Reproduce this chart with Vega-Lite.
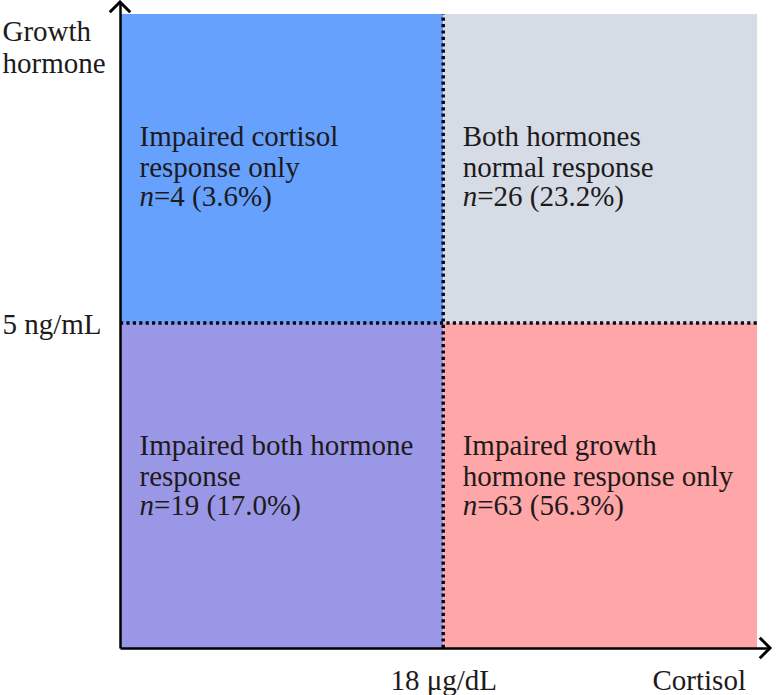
{
  "$schema": "https://vega.github.io/schema/vega-lite/v6.json",
  "width": 650,
  "height": 646,
  "autosize": {"type": "none"},
  "padding": {"left": 120, "top": 2, "right": 8, "bottom": 47},
  "background": "white",
  "config": {"view": {"stroke": null}, "font": "Liberation Serif, Times New Roman, serif"},
  "data": {"values": [{}]},
  "datasets": {
    "quadrants": [
      {"group": "Impaired cortisol response only", "cortisol_lo": 0, "cortisol_hi": 18, "gh_lo": 5, "gh_hi": 9.755, "lines": ["Impaired cortisol", "response only"], "stat": "=4 (3.6%)"},
      {"group": "Both hormones normal response", "cortisol_lo": 18, "cortisol_hi": 35.48, "gh_lo": 5, "gh_hi": 9.755, "lines": ["Both hormones", "normal response"], "stat": "=26 (23.2%)"},
      {"group": "Impaired both hormone response", "cortisol_lo": 0, "cortisol_hi": 18, "gh_lo": 0, "gh_hi": 5, "lines": ["Impaired both hormone", "response"], "stat": "=19 (17.0%)"},
      {"group": "Impaired growth hormone response only", "cortisol_lo": 18, "cortisol_hi": 35.48, "gh_lo": 0, "gh_hi": 5, "lines": ["Impaired growth", "hormone response only"], "stat": "=63 (56.3%)"}
    ]
  },
  "layer": [
    {
      "data": {"name": "quadrants"},
      "mark": {"type": "rect"},
      "encoding": {
        "x": {
          "field": "cortisol_lo", "type": "quantitative",
          "scale": {"domain": [0, 36.2], "nice": false, "zero": false},
          "axis": {
            "values": [18], "labelExpr": "'18 μg/dL'",
            "domainColor": "#000000", "domainWidth": 2.5,
            "ticks": false, "tickSize": 0, "grid": false,
            "labelFont": "Liberation Serif, Times New Roman, serif", "labelFontSize": 29, "labelColor": "#1e1a1b",
            "labelPadding": 41, "labelBaseline": "alphabetic", "labelAlign": "center",
            "labelFlush": false, "labelOverlap": false,
            "title": "Cortisol", "titleFont": "Liberation Serif, Times New Roman, serif", "titleFontSize": 29,
            "titleFontWeight": "normal", "titleColor": "#1e1a1b",
            "titleX": 532, "titleY": 41, "titleAlign": "left", "titleBaseline": "alphabetic",
            "zindex": 2
          }
        },
        "x2": {"field": "cortisol_hi"},
        "y": {
          "field": "gh_hi", "type": "quantitative",
          "scale": {"domain": [0, 9.94], "nice": false, "zero": false},
          "axis": {
            "values": [5], "labelExpr": "'5 ng/mL'",
            "domainColor": "#000000", "domainWidth": 2.5,
            "ticks": false, "tickSize": 0, "grid": false,
            "labelFont": "Liberation Serif, Times New Roman, serif", "labelFontSize": 29, "labelColor": "#1e1a1b",
            "labelPadding": 118, "labelBaseline": "alphabetic", "labelAlign": "left",
            "labelOffset": 10, "labelFlush": false, "labelOverlap": false,
            "title": ["Growth", "hormone"], "titleFont": "Liberation Serif, Times New Roman, serif", "titleFontSize": 29,
            "titleFontWeight": "normal", "titleColor": "#1e1a1b", "titleAngle": 0,
            "titleX": -118, "titleY": 38, "titleAlign": "left", "titleBaseline": "alphabetic",
            "titleLineHeight": 32,
            "zindex": 2
          }
        },
        "y2": {"field": "gh_lo"},
        "color": {
          "field": "group", "type": "nominal",
          "scale": {
            "domain": ["Impaired cortisol response only", "Both hormones normal response", "Impaired both hormone response", "Impaired growth hormone response only"],
            "range": ["#65a1fd", "#d6dce5", "#9a98e6", "#fea6a8"]
          },
          "legend": null
        }
      }
    },
    {
      "mark": {"type": "rule", "strokeDash": [3.2, 3.2], "strokeWidth": 3.5, "color": "#0a0a14", "strokeCap": "butt"},
      "encoding": {
        "x": {"datum": 18, "type": "quantitative"},
        "y": {"datum": 0, "type": "quantitative"},
        "y2": {"datum": 9.755}
      }
    },
    {
      "mark": {"type": "rule", "strokeDash": [3.2, 3.2], "strokeWidth": 3.5, "color": "#0a0a14", "strokeCap": "butt"},
      "encoding": {
        "y": {"datum": 5, "type": "quantitative"},
        "x": {"datum": 0, "type": "quantitative"},
        "x2": {"datum": 35.48}
      }
    },
    {
      "data": {"name": "quadrants"},
      "mark": {"type": "text", "align": "left", "baseline": "alphabetic", "font": "Liberation Serif, Times New Roman, serif", "fontSize": 29, "color": "#1e1a1b", "dx": 19.5, "dy": 132, "lineHeight": 30.5},
      "encoding": {
        "x": {"field": "cortisol_lo", "type": "quantitative"},
        "y": {"field": "gh_hi", "type": "quantitative"},
        "text": {"field": "lines"}
      }
    },
    {
      "data": {"name": "quadrants"},
      "mark": {"type": "text", "align": "left", "baseline": "alphabetic", "font": "Liberation Serif, Times New Roman, serif", "fontSize": 29, "fontStyle": "italic", "color": "#1e1a1b", "dx": 19.5, "dy": 192, "text": "n"},
      "encoding": {
        "x": {"field": "cortisol_lo", "type": "quantitative"},
        "y": {"field": "gh_hi", "type": "quantitative"}
      }
    },
    {
      "data": {"name": "quadrants"},
      "mark": {"type": "text", "align": "left", "baseline": "alphabetic", "font": "Liberation Serif, Times New Roman, serif", "fontSize": 29, "color": "#1e1a1b", "dx": 34, "dy": 192},
      "encoding": {
        "x": {"field": "cortisol_lo", "type": "quantitative"},
        "y": {"field": "gh_hi", "type": "quantitative"},
        "text": {"field": "stat"}
      }
    },
    {
      "mark": {"type": "point", "shape": "M-1,-1L0,0L-1,1", "size": 420, "filled": false, "stroke": "#000000", "strokeWidth": 3, "opacity": 1},
      "encoding": {
        "x": {"datum": 36.2, "type": "quantitative"},
        "y": {"datum": 0, "type": "quantitative"}
      }
    },
    {
      "mark": {"type": "point", "shape": "M-1,1L0,0L1,1", "size": 420, "filled": false, "stroke": "#000000", "strokeWidth": 3, "opacity": 1},
      "encoding": {
        "x": {"datum": 0, "type": "quantitative"},
        "y": {"datum": 9.94, "type": "quantitative"}
      }
    }
  ]
}
